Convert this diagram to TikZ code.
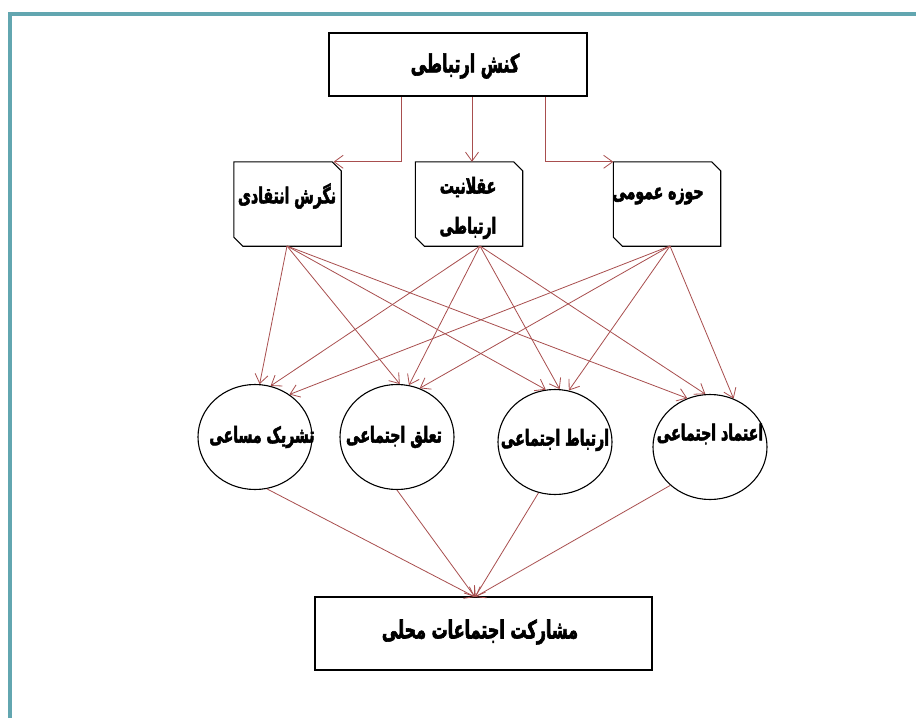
\documentclass[tikz,border=0pt]{standalone}
\usepackage{fontspec}
\usetikzlibrary{shapes.geometric,arrows.meta,calc}
\TeXXeTstate=1
\newfontfamily\fa[Script=Arabic,BoldFont={* Bold},BoldFeatures={FakeBold=2.4,FakeStretch=0.64}]{DejaVu Sans}
\definecolor{arr}{RGB}{168,78,78}
\definecolor{frm}{RGB}{98,166,176}
\tikzset{
  mainbox/.style={draw, line width=2.2pt, rectangle, inner sep=0pt},
  chanchor/.style={rectangle, minimum width=107pt, minimum height=84pt, inner sep=0pt},
  chline/.style={line width=1.1pt, line join=miter},
  circ/.style={draw, line width=1.1pt, ellipse, minimum width=114pt, minimum height=105pt, inner sep=0pt},
  lbl/.style={font=\fa\bfseries\fontsize{22}{24}\selectfont, inner sep=0pt},
  biglbl/.style={font=\fa\bfseries\fontsize{25}{28}\selectfont, inner sep=0pt},
  conn/.style={draw=arr, line width=0.8pt, -{Straight Barb[length=9pt,width=13pt]}},
}
\newcommand\chamf[1]{%
  \draw[chline] (#1.north west) -- ([xshift=-9pt]#1.north east) -- ([yshift=-9pt]#1.north east)
    -- (#1.south east) -- ([xshift=9pt]#1.south west) -- ([yshift=9pt]#1.south west) -- cycle;}
\begin{document}
\begin{tikzpicture}[x=1pt,y=-1pt]
\useasboundingbox (0,0) rectangle (916,718);
\fill[white] (0,0) rectangle (916,718);
\draw[frm, line width=4pt] (10,718) -- (10,14) -- (916,14);

% nodes
\node[mainbox, minimum width=258pt, minimum height=63pt] (top) at (458,64.5) {};
\node[biglbl] (ttop) at (465,66) {\beginR کنش ارتباطی\endR};

\node[chanchor] (L) at (287.5,204) {};
\node[chanchor] (M) at (469,204) {};
\node[chanchor] (R) at (667,204) {};
\chamf{L}\chamf{M}\chamf{R}
\node[lbl] (tL) at (287,196) {\beginR نگرش انتقادی\endR};
\node[lbl] (tM1) at (468,187) {\beginR عقلانیت\endR};
\node[lbl] (tM2) at (468,228) {\beginR ارتباطی\endR};
\node[lbl] (tR) at (658,196) {\beginR حوزه عمومی\endR};

\node[circ] (C1) at (255,437) {};
\node[circ] (C2) at (397,437) {};
\node[circ] (C3) at (555,442) {};
\node[circ] (C4) at (710,447) {};
\node[lbl] (tC1) at (262,437) {\beginR تشریک مساعی\endR};
\node[lbl] (tC2) at (394,437) {\beginR تعلق اجتماعی\endR};
\node[lbl] (tC3) at (555,440) {\beginR ارتباط اجتماعی\endR};
\node[lbl] (tC4) at (710,434) {\beginR اعتماد اجتماعی\endR};

\node[mainbox, minimum width=337pt, minimum height=73pt] (bot) at (483.5,633.5) {};
\node[biglbl] (tbot) at (480,632) {\beginR مشارکت اجتماعات محلی\endR};

\coordinate (bt) at (475,597);

% top connectors
\draw[conn] ([xshift=-57pt]top.south) |- ([xshift=46pt]L.north);
\draw[conn] ([xshift=14pt]top.south) -- ([xshift=3pt]M.north);
\draw[conn] ([xshift=87pt]top.south) |- (R.north west);

% middle connectors
\coordinate (sL) at (287,246);
\coordinate (sM) at (480,246);
\coordinate (sR) at (670,246);
\draw[conn] (sL) -- (C1.85);
\draw[conn] (sM) -- (C1.73);
\draw[conn] (sR) -- (C1.51);
\draw[conn] (sL) -- (C2.87);
\draw[conn] (sM) -- (C2.77);
\draw[conn] (sR) -- (C2.65);
\draw[conn] (sL) -- (C3.100);
\draw[conn] (sM) -- (C3.85);
\draw[conn] (sR) -- (C3.75);
\draw[conn] (sL) -- (C4.115);
\draw[conn] (sM) -- (C4.95);
\draw[conn] (sR) -- (C4.64);

% bottom connectors
\draw[conn] (C1.-77) -- (bt);
\draw[conn] (C2.-90) -- (bt);
\draw[conn] (C3.-108) -- (bt);
\draw[conn] (C4.-136) -- (bt);
\end{tikzpicture}
\end{document}
